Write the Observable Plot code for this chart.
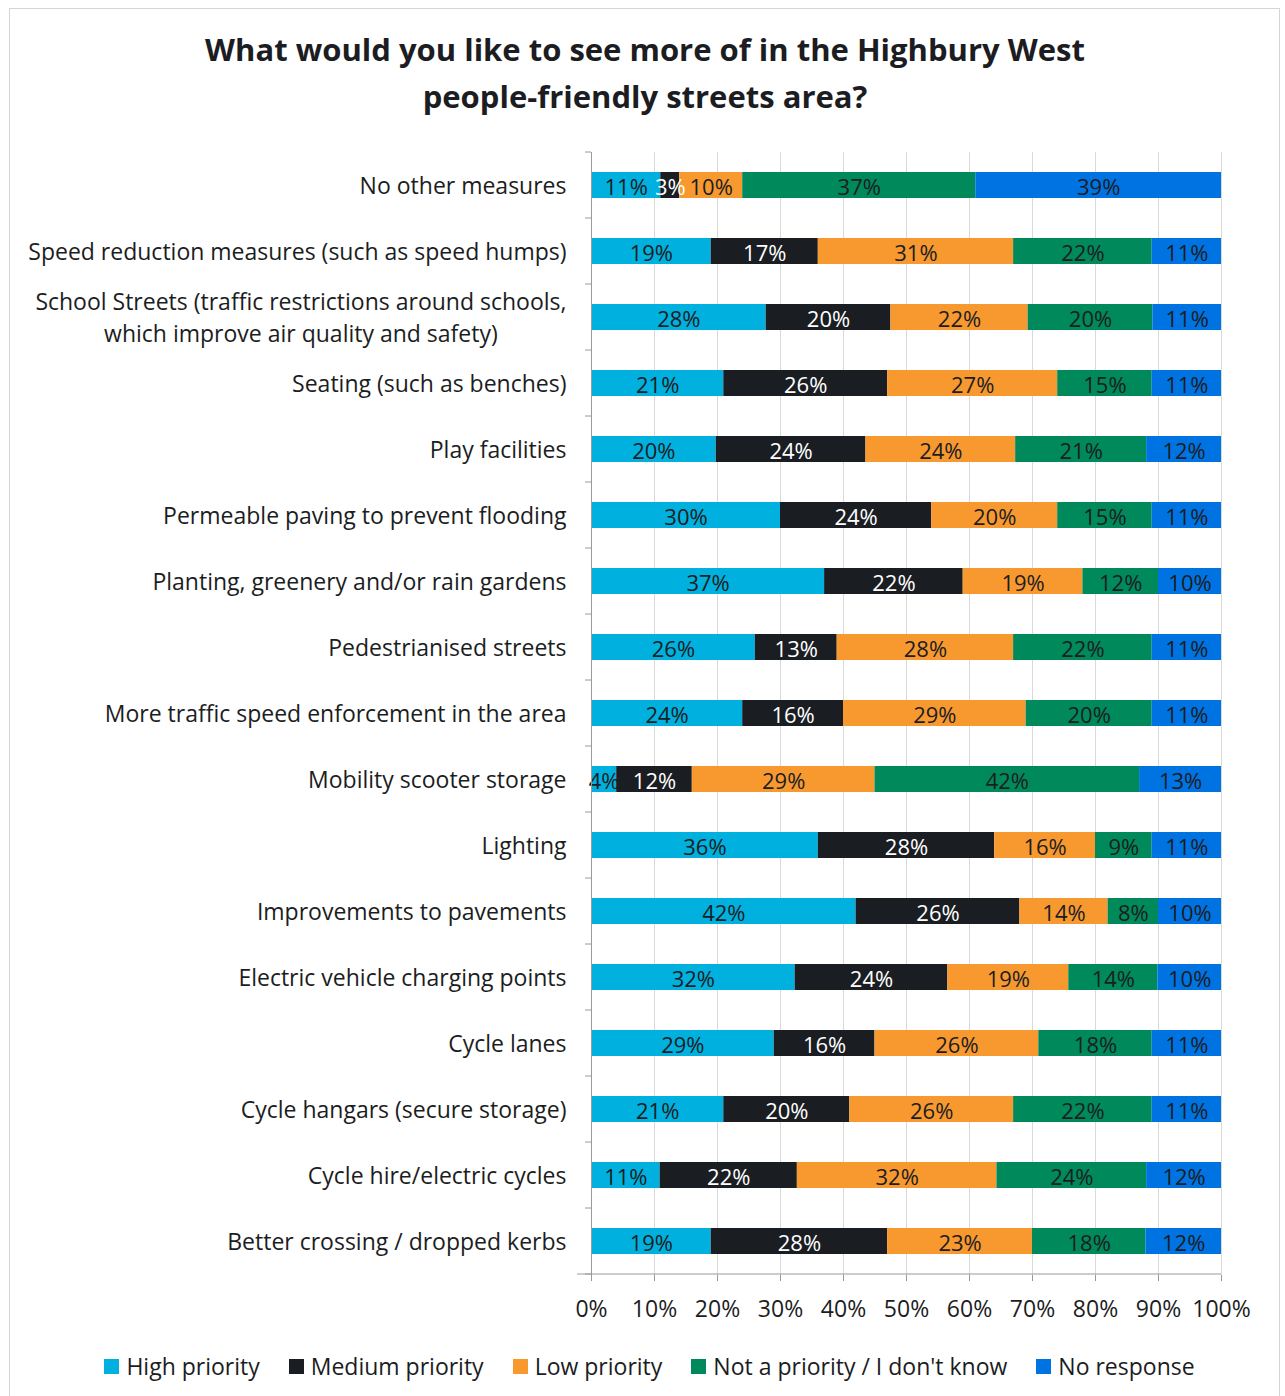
<!DOCTYPE html>
<html><head><meta charset="utf-8">
<script src="https://cdn.jsdelivr.net/npm/d3@7"></script>
<script src="https://cdn.jsdelivr.net/npm/@observablehq/plot@0.6"></script>
<style>
body{margin:0;background:#fff;font-family:"Open Sans",sans-serif;color:#1b1d22;}
#frame{position:absolute;left:9px;top:8px;width:1271px;height:1400px;border:1px solid #d4d4d4;box-sizing:border-box;}
#title{position:absolute;left:0;width:1290px;top:26px;text-align:center;font-weight:700;font-size:31px;line-height:47px;}
#chart{position:absolute;left:0;top:140px;}
#legend{position:absolute;top:1351px;left:0;width:1299px;display:flex;justify-content:center;gap:29px;font-size:23px;line-height:30px;}
#legend .it{display:flex;align-items:center;}
#legend .sw{width:15px;height:15px;margin-right:7px;}
</style></head>
<body>
<div id="frame"></div>
<div id="title">What would you like to see more of in the Highbury West<br>people-friendly streets area?</div>
<div id="chart"></div>
<div id="legend"></div>
<script>
const categories = [
  "No other measures",
  "Speed reduction measures (such as speed humps)",
  "School Streets (traffic restrictions around schools,\nwhich improve air quality and safety)",
  "Seating (such as benches)",
  "Play facilities",
  "Permeable paving to prevent flooding",
  "Planting, greenery and/or rain gardens",
  "Pedestrianised streets",
  "More traffic speed enforcement in the area",
  "Mobility scooter storage",
  "Lighting",
  "Improvements to pavements",
  "Electric vehicle charging points",
  "Cycle lanes",
  "Cycle hangars (secure storage)",
  "Cycle hire/electric cycles",
  "Better crossing / dropped kerbs"
];
const series = ["High priority", "Medium priority", "Low priority", "Not a priority / I don't know", "No response"];
const colors = ["#00b0df", "#1a1d22", "#f7992f", "#00895a", "#0073e3"];
const highPriority   = [11,19,28,21,20,30,37,26,24, 4,36,42,32,29,21,11,19];
const mediumPriority = [ 3,17,20,26,24,24,22,13,16,12,28,26,24,16,20,22,28];
const lowPriority    = [10,31,22,27,24,20,19,28,29,29,16,14,19,26,26,32,23];
const notPriority    = [37,22,20,15,21,15,12,22,20,42, 9, 8,14,18,22,24,18];
const noResponse     = [39,11,11,11,12,11,10,11,11,13,11,10,10,11,11,12,12];
const xTicks = [0,10,20,30,40,50,60,70,80,90,100];

const seriesValues = [highPriority, mediumPriority, lowPriority, notPriority, noResponse];
const rows = categories.flatMap((c, i) => series.map((s, j) => ({category: c, series: s, value: seriesValues[j][i]})));
const dark = "#1b1d22";

const stackOpts = {offset: "normalize", x: "value", y: "category", z: "series"};

const plot = Plot.plot({
  width: 1285, height: 1200,
  marginTop: 12, marginLeft: 591, marginRight: 64, marginBottom: 65,
  style: {fontFamily: "Open Sans", fontSize: "22px", color: dark, background: "transparent"},
  x: {domain: [0, 1]},
  y: {domain: categories, paddingInner: 0.6, paddingOuter: 0.3},
  color: {domain: series, range: colors},
  marks: [
    Plot.gridX(xTicks.map(t => t / 100), {stroke: "#d9d9d9", strokeOpacity: 1, strokeWidth: 1}),
    Plot.barX(rows, Plot.stackX({...stackOpts, fill: "series"})),
    Plot.text(rows, Plot.stackX({...stackOpts, text: d => d.series === "Medium priority" ? null : d.value + "%", fill: dark, fontSize: 22, dy: 2})),
    Plot.text(rows, Plot.stackX({...stackOpts, text: d => d.series === "Medium priority" ? d.value + "%" : null, fill: "white", fontSize: 22, dy: 2})),
    Plot.ruleX([0], {stroke: "#9a9a9a"}),
    Plot.axisY({tickSize: 0, tickPadding: 25, fontSize: 23, lineHeight: 1.4, dy: -2, label: null}),
    Plot.axisX(xTicks.map(t => t / 100), {tickSize: 6, tickPadding: 19, fontSize: 23, stroke: "#9a9a9a", tickFormat: d => Math.round(d * 100) + "%", label: null})
  ]
});
document.getElementById("chart").appendChild(plot);

// category boundary ticks and bottom axis line
const svg = d3.select(plot);
const ys = plot.scale("y");
const xs = plot.scale("x");
const step = ys.step ?? ((ys.range[1] - ys.range[0]) / categories.length);
const bw = ys.bandwidth ?? step * 0.4;
const bounds = categories.map(c => ys.apply(c) - (step - bw) / 2);
bounds.push(bounds[bounds.length - 1] + step);
const x0 = xs.apply(0), x1 = xs.apply(1);
const g = svg.append("g").attr("stroke", "#9a9a9a").attr("stroke-width", 1);
bounds.forEach(b => g.append("line").attr("x1", x0 - 6).attr("x2", x0).attr("y1", b).attr("y2", b));
g.append("line").attr("x1", x0 - 14).attr("x2", x1).attr("y1", bounds[bounds.length - 1]).attr("y2", bounds[bounds.length - 1]);

// center-align the two-line label
svg.selectAll("text").each(function() {
  if (this.textContent.includes("which improve")) {
    const bb = this.getBBox();
    const cx = bb.x + bb.width / 2;
    this.setAttribute("text-anchor", "middle");
    this.style.textAnchor = "middle";
    d3.select(this).selectAll("tspan").attr("x", cx);
  }
});

// legend
const leg = d3.select("#legend");
series.forEach((s, i) => {
  const it = leg.append("div").attr("class", "it");
  it.append("div").attr("class", "sw").style("background", colors[i]);
  it.append("span").text(s);
});
</script>
</body></html>
